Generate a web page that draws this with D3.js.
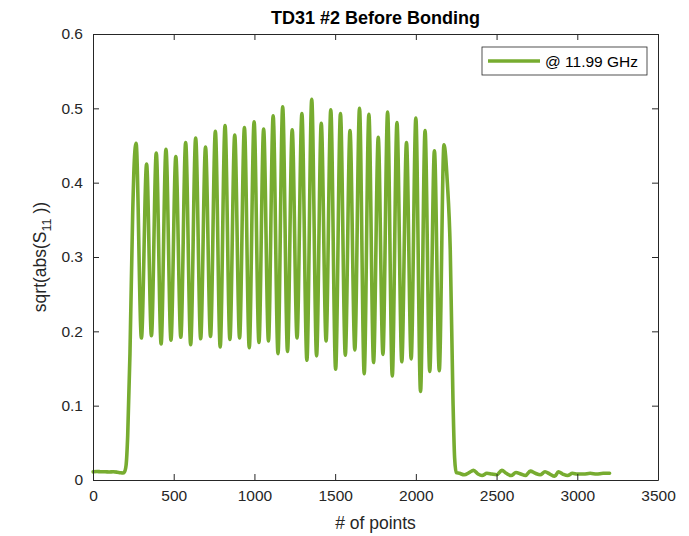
<!DOCTYPE html>
<html>
<head>
<meta charset="utf-8">
<script src="https://cdn.jsdelivr.net/npm/d3@7"></script>
<style>
  html, body { margin: 0; padding: 0; background: #fff; }
  svg { display: block; font-family: "Liberation Sans", Arial, Helvetica, sans-serif; }
</style>
</head>
<body>
<svg id="chart" width="689" height="536"></svg>
<script>
// Resonance maxima of the sweep (sample index, value)
const peakX = [267, 332, 392, 452, 513, 574, 636, 697, 758, 818, 878, 938, 998, 1057, 1116, 1175, 1234,
               1294, 1355, 1414, 1473, 1533, 1592, 1651, 1709, 1767, 1825, 1883, 1942, 2000, 2057, 2115, 2174];
const peakY = [0.453, 0.425, 0.440, 0.445, 0.435, 0.454, 0.460, 0.448, 0.469, 0.477, 0.464, 0.474, 0.482,
               0.472, 0.490, 0.502, 0.471, 0.493, 0.512, 0.480, 0.498, 0.493, 0.470, 0.500, 0.492, 0.461,
               0.495, 0.481, 0.454, 0.487, 0.470, 0.443, 0.451];

// Minima between neighbouring maxima
const troughX = [300, 362, 422, 483, 544, 605, 667, 728, 788, 848, 908, 968, 1028, 1087, 1146, 1205,
                 1264, 1325, 1385, 1444, 1503, 1563, 1622, 1680, 1738, 1796, 1854, 1913, 1971, 2029, 2086, 2145];
const troughY = [0.191, 0.194, 0.183, 0.188, 0.192, 0.182, 0.190, 0.193, 0.179, 0.189, 0.191, 0.178,
                 0.185, 0.187, 0.170, 0.173, 0.191, 0.161, 0.167, 0.187, 0.149, 0.168, 0.175, 0.143,
                 0.158, 0.169, 0.140, 0.159, 0.163, 0.119, 0.146, 0.147];

// Flat floor before the band, rising edge, falling edge and floor after the band
const leadX = [1, 25, 50, 75, 100, 125, 150, 170, 185, 195];
const leadY = [0.011, 0.0115, 0.011, 0.011, 0.0108, 0.011, 0.0105, 0.0098, 0.0095, 0.011];
const riseX = [205, 215, 229, 246, 256];
const riseY = [0.020, 0.060, 0.170, 0.360, 0.430];
const fallX = [2195, 2213, 2230, 2240, 2250];
const fallY = [0.400, 0.310, 0.107, 0.030, 0.010];
const tailX = [2270, 2300, 2330, 2357, 2385, 2410, 2440, 2470, 2500, 2533, 2560, 2590, 2620, 2650, 2680,
               2709, 2740, 2770, 2800, 2830, 2860, 2883, 2910, 2940, 2970, 3000, 3040, 3080, 3120, 3160, 3200];
const tailY = [0.009, 0.007, 0.010, 0.013, 0.008, 0.006, 0.009, 0.008, 0.007, 0.013, 0.009, 0.006,
               0.010, 0.008, 0.006, 0.012, 0.009, 0.007, 0.011, 0.008, 0.005, 0.011, 0.008, 0.006,
               0.009, 0.008, 0.008, 0.009, 0.008, 0.009, 0.009];

const xTicks = [0, 500, 1000, 1500, 2000, 2500, 3000, 3500];
const yTicks = [0, 0.1, 0.2, 0.3, 0.4, 0.5, 0.6];

const titleText = "TD31 #2 Before Bonding";
const xLabel = "# of points";
const legendLabel = "@ 11.99 GHz";

const lineColor = "#77ac30";
const axisColor = "#262626";

const svg = d3.select("#chart");
const plotLeft = 93, plotRight = 658, plotTop = 34, plotBottom = 480;

const x = d3.scaleLinear().domain([0, 3500]).range([plotLeft, plotRight]);
const y = d3.scaleLinear().domain([0, 0.6]).range([plotBottom, plotTop]);

// Merge all segments into one ordered trace
const pairs = (xs, ys) => xs.map((v, i) => [v, ys[i]]);
const trace = [].concat(
  pairs(leadX, leadY), pairs(riseX, riseY), pairs(peakX, peakY),
  pairs(troughX, troughY), pairs(fallX, fallY), pairs(tailX, tailY)
).sort((a, b) => a[0] - b[0]);

// Data line
svg.append("path")
  .datum(trace)
  .attr("fill", "none")
  .attr("stroke", lineColor)
  .attr("stroke-width", 3.6)
  .attr("stroke-linejoin", "round")
  .attr("stroke-linecap", "round")
  .attr("d", d3.line().x(d => x(d[0])).y(d => y(d[1])).curve(d3.curveMonotoneX));

// Axes: ticks point inward on all four sides
const tickLen = 6;
const fmtX = d3.format("d");
const fmtY = d => d === 0 ? "0" : d3.format(".1f")(d);

const xAxisB = d3.axisBottom(x).tickValues(xTicks).tickSizeInner(-tickLen).tickSizeOuter(0).tickPadding(10).tickFormat(fmtX);
const xAxisT = d3.axisTop(x).tickValues(xTicks).tickSizeInner(-tickLen).tickSizeOuter(0).tickFormat("");
const yAxisL = d3.axisLeft(y).tickValues(yTicks).tickSizeInner(-tickLen).tickSizeOuter(0).tickPadding(10).tickFormat(fmtY);
const yAxisR = d3.axisRight(y).tickValues(yTicks).tickSizeInner(-tickLen).tickSizeOuter(0).tickFormat("");

function styleAxis(g) {
  g.select(".domain").attr("stroke", axisColor).attr("stroke-width", 1);
  g.selectAll(".tick line").attr("stroke", axisColor).attr("stroke-width", 1);
  g.selectAll(".tick text").attr("fill", axisColor).attr("font-size", 15.5)
    .attr("font-family", "'Liberation Sans', Arial, Helvetica, sans-serif");
}

svg.append("g").attr("transform", `translate(0,${plotBottom})`).call(xAxisB).call(styleAxis);
svg.append("g").attr("transform", `translate(0,${plotTop})`).call(xAxisT).call(styleAxis);
svg.append("g").attr("transform", `translate(${plotLeft},0)`).call(yAxisL).call(styleAxis);
svg.append("g").attr("transform", `translate(${plotRight},0)`).call(yAxisR).call(styleAxis);

// Title
svg.append("text")
  .attr("x", (plotLeft + plotRight) / 2).attr("y", 24)
  .attr("text-anchor", "middle")
  .attr("font-size", 18).attr("font-weight", "bold").attr("fill", "#000")
  .text(titleText);

// X label
svg.append("text")
  .attr("x", (plotLeft + plotRight) / 2).attr("y", 529)
  .attr("text-anchor", "middle")
  .attr("font-size", 17.5).attr("fill", axisColor)
  .text(xLabel);

// Y label with subscript
const yl = svg.append("text")
  .attr("transform", `translate(46,${(plotTop + plotBottom) / 2}) rotate(-90)`)
  .attr("text-anchor", "middle")
  .attr("font-size", 17.5).attr("fill", axisColor);
yl.append("tspan").text("sqrt(abs(S");
yl.append("tspan").attr("font-size", 12.5).attr("dy", 5).text("11");
yl.append("tspan").attr("dy", -5).attr("dx", 5).text("))");

// Legend
const lg = svg.append("g");
lg.append("rect").attr("x", 482).attr("y", 47).attr("width", 165).attr("height", 28)
  .attr("fill", "#fff").attr("stroke", axisColor).attr("stroke-width", 0.8);
lg.append("line").attr("x1", 488).attr("x2", 540).attr("y1", 61).attr("y2", 61)
  .attr("stroke", lineColor).attr("stroke-width", 3.6);
lg.append("text").attr("x", 545).attr("y", 66.5).attr("font-size", 15.5).attr("fill", "#000")
  .text(legendLabel);
</script>
</body>
</html>
